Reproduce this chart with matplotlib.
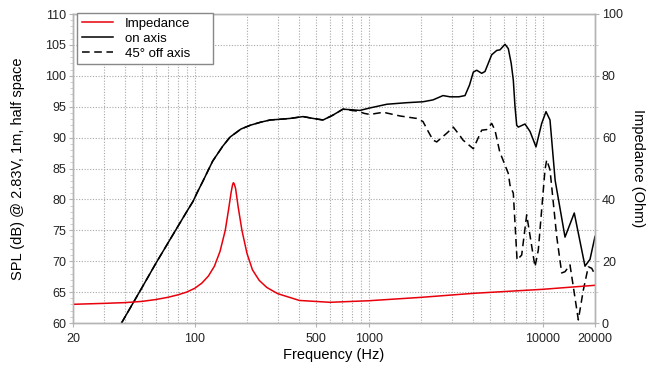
import matplotlib
matplotlib.use("Agg")
import matplotlib.pyplot as plt
from matplotlib.ticker import FixedLocator, NullFormatter

plt.rcParams['font.family'] = ['Liberation Sans', 'DejaVu Sans']

# on axis SPL (dB)
on_freq = [38, 50, 60, 74, 90, 98, 103, 110, 115, 127, 145, 160, 185, 209, 240, 272,
           320, 353, 420, 480, 547, 620, 712, 800, 892, 1018, 1275, 1662,
           2053, 2344, 2676, 2936, 3300, 3580, 3800, 3997, 4180, 4466, 4665,
           4900, 5097, 5446, 5689, 6078, 6350, 6600, 6785, 6939, 7097, 7249, 7919, 8462,
           9161, 9878, 10457, 11026, 11800, 13450, 15200, 17520, 18720, 20000]
on_spl = [60, 65.8, 69.7, 74.0, 78.0, 79.7, 81.0, 82.6, 83.7, 86.2, 88.6, 90.1, 91.4,
          92.0, 92.5, 92.85, 93.0, 93.1, 93.4, 93.1, 92.85, 93.6, 94.6, 94.5,
          94.4, 94.8, 95.4, 95.65, 95.8, 96.1, 96.8, 96.6, 96.6, 96.8, 98.5,
          100.6, 100.9, 100.4, 100.7, 102.2, 103.4, 104.1, 104.2, 105.1, 104.4, 102.0,
          99.3, 95.0, 92.0, 91.7, 92.2, 91.0, 88.5, 92.3, 94.2, 92.85, 83.1, 73.9,
          77.8, 69.2, 70.3, 74.0]

# 45 deg off axis SPL (dB)
off_freq = [38, 50, 60, 74, 90, 98, 103, 110, 115, 127, 145, 160, 185, 209, 240, 272,
            320, 353, 420, 480, 547, 620, 712, 800, 854, 950, 1018, 1214,
            1514, 1889, 2053, 2200, 2344, 2462, 2810, 3066, 3351, 3486, 3997,
            4466, 4770, 5097, 5324, 5689, 5819, 6350, 6494, 6785, 7130, 7581,
            8100, 9041, 9444, 10320, 10554, 11026, 12048, 12870, 13450, 14365,
            15007, 16040, 17130, 18300, 19150, 20000]
off_spl = [60, 65.8, 69.7, 74.0, 78.0, 79.7, 81.0, 82.6, 83.7, 86.2, 88.6, 90.1, 91.4,
           92.0, 92.5, 92.85, 93.0, 93.1, 93.4, 93.1, 92.85, 93.6, 94.6, 94.4,
           94.3, 93.9, 93.75, 94.1, 93.5, 93.1, 92.6, 91.0, 89.6, 89.3, 90.7,
           91.7, 90.3, 89.6, 88.2, 91.2, 91.3, 92.3, 91.2, 87.5, 86.9, 84.2,
           82.3, 81.0, 70.2, 71.0, 77.5, 69.1, 71.8, 84.8, 86.4, 84.8, 74.0,
           68.1, 68.3, 69.4, 65.9, 60.5, 65.3, 69.1, 68.85, 67.8]

# impedance (Ohm)
imp_freq = [20, 30, 40, 50, 60, 70, 80, 90, 100, 110, 120, 130, 140, 150, 157,
            162, 165, 167, 169, 172, 178, 187, 200, 215, 235, 260, 300, 400, 600, 1000,
            2000, 4000, 10000, 20000]
imp_ohm = [6.05, 6.35, 6.6, 7.0, 7.6, 8.3, 9.1, 10.0, 11.2, 12.9, 15.2, 18.4,
           23.2, 30.0, 37.0, 42.2, 44.6, 45.4, 45.0, 43.5, 37.5, 30.0, 22.5, 17.2, 13.8,
           11.5, 9.5, 7.3, 6.7, 7.2, 8.3, 9.6, 10.9, 12.2]

x_labels = [20, 100, 500, 1000, 10000, 20000]
x_grid = [30, 40, 50, 60, 70, 80, 90, 200, 300, 400, 600, 700, 800, 900,
          2000, 3000, 4000, 5000, 6000, 7000, 8000, 9000]

fig = plt.figure(figsize=(6.5, 3.7), dpi=100)
ax = fig.add_axes([73 / 650, 1 - 323 / 370, 522 / 650, 309 / 370])
ax2 = ax.twinx()

l_on, = ax.semilogx(on_freq, on_spl, color='black', lw=1.1, label='on axis')
l_off, = ax.semilogx(off_freq, off_spl, color='black', lw=1.1, ls=(0, (5, 3)),
                     label='45° off axis')
l_imp, = ax2.semilogx(imp_freq, imp_ohm, color='#e8000b', lw=1.1, label='Impedance')

ax.set_xlim(20, 20000)
ax.set_ylim(60, 110)
ax2.set_ylim(0, 100)

ax.xaxis.set_major_locator(FixedLocator(x_labels))
ax.xaxis.set_major_formatter(plt.FuncFormatter(lambda v, p: '%d' % v))
ax.xaxis.set_minor_locator(FixedLocator(x_grid))
ax.xaxis.set_minor_formatter(NullFormatter())
ax.set_yticks(range(60, 111, 5))
ax.yaxis.set_minor_locator(FixedLocator(range(60, 111)))
ax2.set_yticks(range(0, 101, 20))
ax2.yaxis.set_minor_locator(FixedLocator(range(0, 101, 10)))

ax.grid(which='both', axis='x', ls=(0, (1, 1.5)), color='#a8a8a8', lw=0.8)
ax.grid(which='major', axis='y', ls=(0, (1, 1.5)), color='#a8a8a8', lw=0.8)

for a in (ax, ax2):
    for s in a.spines.values():
        s.set_color('#b4b4b4')
        s.set_linewidth(1.0)
    a.tick_params(which='major', length=3, color='#b4b4b4', labelsize=9,
                  labelcolor='#222222', pad=2)
    a.tick_params(which='minor', length=2, color='#c8c8c8')
ax.tick_params(axis='x', which='minor', length=0)
ax.tick_params(axis='x', which='major', pad=4)

ax.set_xlabel('Frequency (Hz)', fontsize=10.5)
ax.xaxis.set_label_coords(0.5, -0.082)
ax.set_ylabel('SPL (dB) @ 2.83V, 1m, half space', fontsize=10.5)
ax.yaxis.set_label_coords(-0.092, 0.5)
ax2.set_ylabel('Impedance (Ohm)', fontsize=10.5, rotation=-90, va='center')
ax2.yaxis.set_label_coords(1.082, 0.5)

leg = ax2.legend(handles=[l_imp, l_on, l_off], loc='upper left',
                 bbox_to_anchor=(0.0077, 0.9935, 0.2605, 0.01), mode='expand',
                 borderaxespad=0, fontsize=9.5, fancybox=False, framealpha=1,
                 edgecolor='#888888', borderpad=0.35, labelspacing=0.2,
                 handlelength=2.4, handletextpad=0.85)
leg.get_frame().set_linewidth(1.0)

fig.savefig('out.png', dpi=100)
